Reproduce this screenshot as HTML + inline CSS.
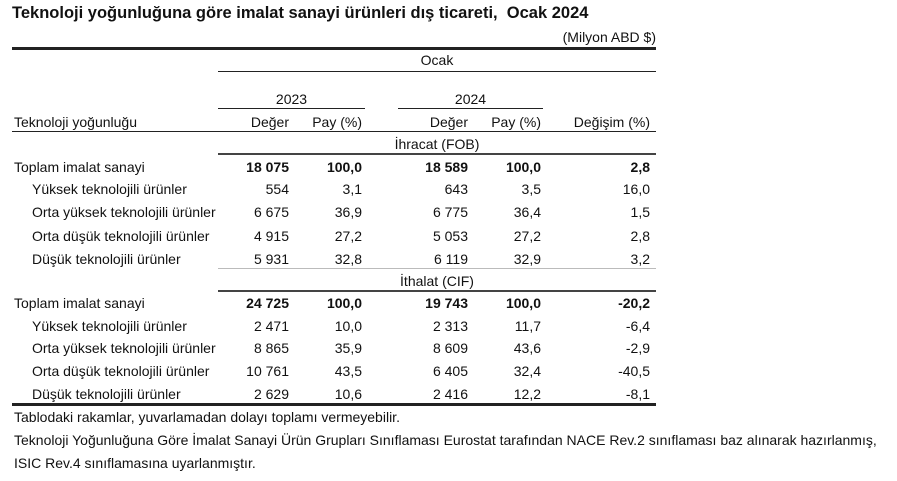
<!DOCTYPE html>
<html><head><meta charset="utf-8"><style>
body{margin:0;width:897px;height:481px;background:#fff;position:relative;font-family:"Liberation Sans",Arial,sans-serif;color:#111;overflow:hidden}
.t{position:absolute;font-size:14px;white-space:nowrap;line-height:15px}
.r{text-align:right}
.c{text-align:center}
.b{font-weight:bold}
.l{position:absolute;background:#222}
</style></head><body>
<div class="t b" style="left:12px;top:4px;font-size:16.5px;line-height:19px">Teknoloji yoğunluğuna göre imalat sanayi ürünleri dış ticareti,&nbsp; Ocak 2024</div>
<div class="t r" style="right:241px;top:30px">(Milyon ABD $)</div>
<div class="l" style="left:12px;top:47px;width:644px;height:3px"></div>
<div class="t c" style="left:218px;width:438px;top:53px">Ocak</div>
<div class="l" style="left:218px;top:71px;width:438px;height:1px"></div>
<div class="t c" style="left:218px;width:147px;top:92px">2023</div>
<div class="t c" style="left:398px;width:145px;top:92px">2024</div>
<div class="l" style="left:218px;top:108px;width:147px;height:1px"></div>
<div class="l" style="left:398px;top:108px;width:145px;height:1px"></div>
<div class="t" style="left:14px;top:115px">Teknoloji yoğunluğu</div>
<div class="t r" style="right:608px;top:115px">Değer</div>
<div class="t r" style="right:535px;top:115px">Pay (%)</div>
<div class="t r" style="right:429px;top:115px">Değer</div>
<div class="t r" style="right:356px;top:115px">Pay (%)</div>
<div class="t r" style="right:247px;top:115px">Değişim (%)</div>
<div class="l" style="left:12px;top:131px;width:644px;height:1px"></div>
<div class="t c" style="left:218px;width:438px;top:137px">İhracat (FOB)</div>
<div class="l" style="left:218px;top:153px;width:438px;height:2px;background:#444"></div>

<div id="rows"></div>
<div class="l" style="left:218px;top:268px;width:438px;height:1px;background:#bbb"></div>
<div class="t c" style="left:218px;width:438px;top:274px">İthalat (CIF)</div>
<div class="l" style="left:218px;top:290px;width:438px;height:2px;background:#444"></div>
<div class="l" style="left:12px;top:403px;width:644px;height:3px"></div>
<div class="t" style="left:14px;top:410px">Tablodaki rakamlar, yuvarlamadan dolayı toplamı vermeyebilir.</div>
<div class="t" style="left:14px;top:433px">Teknoloji Yoğunluğuna Göre İmalat Sanayi Ürün Grupları Sınıflaması Eurostat tarafından NACE Rev.2 sınıflaması baz alınarak hazırlanmış,</div>
<div class="t" style="left:14px;top:456px">ISIC Rev.4 sınıflamasına uyarlanmıştır.</div>
<script>
var data=[
[160,1,"Toplam imalat sanayi","18 075","100,0","18 589","100,0","2,8"],
[182,0,"Yüksek teknolojili ürünler","554","3,1","643","3,5","16,0"],
[205,0,"Orta yüksek teknolojili ürünler","6 675","36,9","6 775","36,4","1,5"],
[229,0,"Orta düşük teknolojili ürünler","4 915","27,2","5 053","27,2","2,8"],
[252,0,"Düşük teknolojili ürünler","5 931","32,8","6 119","32,9","3,2"],
[296,1,"Toplam imalat sanayi","24 725","100,0","19 743","100,0","-20,2"],
[319,0,"Yüksek teknolojili ürünler","2 471","10,0","2 313","11,7","-6,4"],
[341,0,"Orta yüksek teknolojili ürünler","8 865","35,9","8 609","43,6","-2,9"],
[364,0,"Orta düşük teknolojili ürünler","10 761","43,5","6 405","32,4","-40,5"],
[387,0,"Düşük teknolojili ürünler","2 629","10,6","2 416","12,2","-8,1"]];
var rights=[608,535,429,356,247],h="";
data.forEach(function(d){
h+='<div class="t" style="left:'+(d[1]?14:32)+'px;top:'+d[0]+'px">'+d[2]+'</div>';
for(var i=0;i<5;i++)h+='<div class="t r'+(d[1]?' b':'')+'" style="right:'+rights[i]+'px;top:'+d[0]+'px">'+d[3+i]+'</div>';
});
document.getElementById('rows').innerHTML=h;
</script>
</body></html>
